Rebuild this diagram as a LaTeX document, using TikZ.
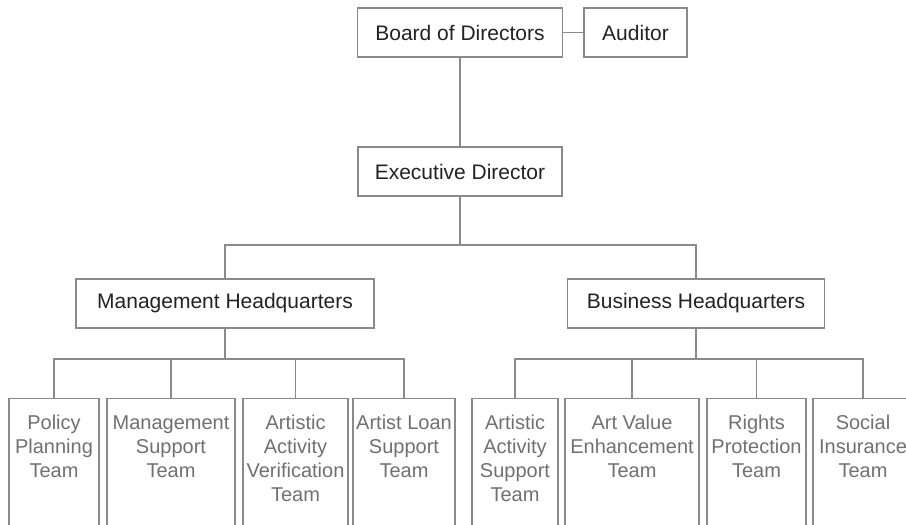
\documentclass[tikz,border=0pt]{standalone}
\usepackage{fontspec}
\setmainfont{Liberation Sans}
\definecolor{linegray}{HTML}{8A8A8A}
\definecolor{topText}{HTML}{222222}
\definecolor{teamText}{HTML}{707070}
\newcommand{\teamtext}[2]{\parbox[b][140pt][t]{#1}{\centering\hyphenpenalty=10000\exhyphenpenalty=10000\fontsize{20}{24}\selectfont\rule{0pt}{31pt}#2}}
\tikzset{
  topbox/.style={draw=linegray, line width=1.1pt, minimum height=49pt, inner sep=0pt,
    text=topText, font=\fontsize{21}{25}\selectfont},
  teambox/.style={draw=linegray, line width=1.1pt, inner sep=0pt, anchor=north, text=teamText},
  conn/.style={draw=linegray, line width=1.1pt}
}
\begin{document}
\begin{tikzpicture}[x=1pt,y=-1pt]
\useasboundingbox (0,0) rectangle (906,525);
\clip (0,0) rectangle (906,525);
\node[topbox, minimum width=205pt] (board) at (460,32.5) {Board of Directors};
\node[topbox, minimum width=103pt] (auditor) at (635.5,32.5) {Auditor};
\node[topbox, minimum width=204pt] (exec) at (460,171.5) {Executive Director};
\node[topbox, minimum width=298pt] (mhq) at (225,303.5) {Management Headquarters};
\node[topbox, minimum width=257pt] (bhq) at (696,303.5) {Business Headquarters};
\coordinate (j1) at (460,245);
\coordinate (jm) at (225,359);
\coordinate (jb) at (696,359);
\node[teambox] (t1) at (54,398) {\teamtext{90pt}{Policy\\Planning\\Team}};
\node[teambox] (t2) at (171,398) {\teamtext{128pt}{Management\\Support\\Team}};
\node[teambox] (t3) at (295.5,398) {\teamtext{105pt}{Artistic\\Activity\\Verification\\Team}};
\node[teambox] (t4) at (404,398) {\teamtext{102pt}{Artist Loan\\Support\\Team}};
\node[teambox] (t5) at (515,398) {\teamtext{86pt}{Artistic\\Activity\\Support\\Team}};
\node[teambox] (t6) at (632,398) {\teamtext{134pt}{Art Value\\Enhancement\\Team}};
\node[teambox] (t7) at (756.5,398) {\teamtext{99pt}{Rights\\Protection\\Team}};
\node[teambox] (t8) at (863,398) {\teamtext{100pt}{Social\\Insurance\\Team}};
\draw[conn] (board.east) -- (auditor.west);
\draw[conn] (board.south) -- (exec.north);
\draw[conn] (exec.south) -- (j1);
\draw[conn] (mhq.north) |- (j1) -| (bhq.north);
\draw[conn] (mhq.south) -- (jm);
\draw[conn] (bhq.south) -- (jb);
\foreach \t in {t1,t2,t3,t4} { \draw[conn] (\t.north) |- (jm); }
\foreach \t in {t5,t6,t7,t8} { \draw[conn] (\t.north) |- (jb); }
\end{tikzpicture}
\end{document}
